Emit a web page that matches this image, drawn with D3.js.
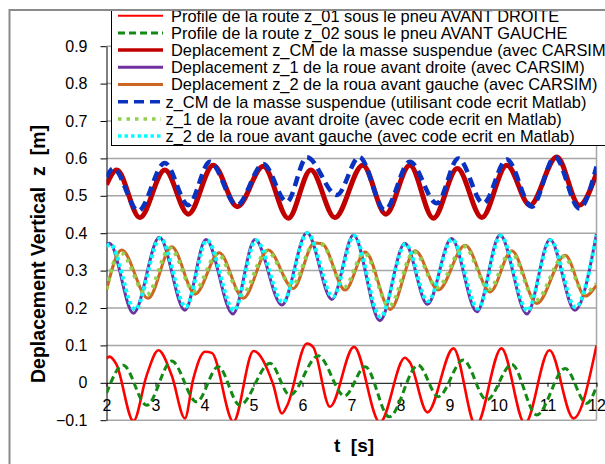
<!DOCTYPE html>
<html>
<head>
<meta charset="utf-8">
<script src="https://cdn.jsdelivr.net/npm/d3@7"></script>
<style>
 body { margin: 0; background: #fff; }
 text { font-family: "Liberation Sans", Arial, sans-serif; }
</style>
</head>
<body>
<div id="chart"></div>
<script type="text/javascript">
 // [t (s), z (m)]
 var roadRight = [[2,0.065],[2.06,0.07],[2.2,0.05],[2.55,-0.102],[2.82,0.02],[3.06,0.087],[3.33,0.02],[3.6,-0.095],[3.77,0.01],[4.01,0.083],[4.15,0.08],[4.59,-0.104],[5.0,0.085],[5.4,-0.004],[5.58,-0.082],[5.69,-0.06],[6.09,0.105],[6.22,0.095],[6.56,-0.064],[7.05,0.096],[7.58,-0.106],[8.09,0.067],[8.19,0.055],[8.55,-0.079],[9.08,0.092],[9.54,-0.115],[10.06,0.092],[10.54,-0.109],[11.04,0.087],[11.53,-0.095],[12,0.1]];
 var roadLeft = [[2,-0.028],[2.34,0.047],[2.82,-0.06],[3.33,0.058],[3.84,-0.051],[4.28,0.043],[4.72,-0.06],[5.34,0.052],[5.74,-0.033],[6.32,0.072],[6.86,-0.035],[7.28,0.043],[7.77,-0.091],[8.36,0.047],[8.77,-0.037],[9.28,0.061],[9.76,-0.046],[10.27,0.049],[10.78,-0.086],[11.36,0.038],[11.8,-0.055],[12,-0.01]];
 var cmCarsim = [[2,0.53],[2.21,0.569],[2.68,0.442],[3.19,0.569],[3.67,0.451],[4.18,0.582],[4.67,0.471],[5.2,0.579],[5.71,0.44],[6.17,0.569],[6.66,0.442],[7.23,0.582],[7.7,0.451],[8.19,0.582],[8.67,0.44],[9.16,0.573],[9.66,0.442],[10.17,0.582],[10.64,0.475],[11.19,0.604],[11.65,0.475],[12,0.56]];
 var z1Carsim = [[2,0.37],[2.06,0.373],[2.55,0.186],[3.08,0.389],[3.6,0.194],[4.03,0.383],[4.58,0.184],[5.03,0.383],[5.58,0.208],[6.09,0.401],[6.6,0.223],[7.04,0.395],[7.58,0.166],[8.09,0.373],[8.55,0.21],[9.04,0.386],[9.56,0.19],[10.03,0.395],[10.58,0.184],[11.05,0.383],[11.56,0.194],[12,0.398]];
 var z2Carsim = [[2,0.248],[2.31,0.355],[2.85,0.226],[3.33,0.364],[3.81,0.237],[4.3,0.348],[4.79,0.226],[5.3,0.355],[5.81,0.252],[6.24,0.374],[6.4,0.372],[6.87,0.248],[7.28,0.35],[7.79,0.196],[8.3,0.353],[8.77,0.248],[9.32,0.368],[9.83,0.243],[10.27,0.353],[10.78,0.212],[11.36,0.341],[11.77,0.232],[12,0.261]];
 var cmMatlab = [[2,0.55],[2.14,0.573],[2.65,0.46],[3.19,0.588],[3.67,0.475],[4.11,0.591],[4.66,0.475],[5.2,0.585],[5.68,0.484],[6.09,0.603],[6.7,0.502],[7.16,0.604],[7.68,0.462],[8.19,0.591],[8.74,0.48],[9.18,0.6],[9.69,0.48],[10.17,0.597],[10.68,0.471],[11.15,0.604],[11.65,0.466],[12,0.578]];
 var z1Matlab = [[2,0.25],[2.28,0.35],[2.82,0.235],[3.3,0.36],[3.79,0.245],[4.27,0.345],[4.76,0.235],[5.28,0.352],[5.79,0.26],[6.24,0.372],[6.4,0.37],[6.85,0.255],[7.26,0.347],[7.77,0.205],[8.28,0.35],[8.75,0.255],[9.3,0.365],[9.81,0.25],[10.25,0.35],[10.76,0.22],[11.34,0.338],[11.75,0.24],[12,0.265]];
 var z2Matlab = [[2,0.365],[2.08,0.37],[2.58,0.196],[3.1,0.387],[3.62,0.203],[4.05,0.381],[4.6,0.194],[5.05,0.381],[5.6,0.215],[6.1,0.4],[6.62,0.23],[7.05,0.393],[7.59,0.176],[8.1,0.371],[8.56,0.218],[9.05,0.384],[9.58,0.198],[10.04,0.393],[10.59,0.193],[11.06,0.381],[11.57,0.202],[12,0.395]];

 var legendLabels = [
   "Profile de la route z_01 sous le pneu AVANT DROITE",
   "Profile de la route z_02 sous le pneu AVANT GAUCHE",
   "Deplacement z_CM de la masse suspendue (avec CARSIM)",
   "Deplacement z_1 de la roue avant droite (avec CARSIM)",
   "Deplacement z_2 de la roua avant gauche (avec CARSIM)",
   "z_CM de la masse suspendue (utilisant code ecrit Matlab)",
   "z_1 de la roue avant droite (avec code ecrit en Matlab)",
   "z_2 de la roue avant gauche (avec code ecrit en Matlab)"
 ];
 var yTicks = [-0.1,0,0.1,0.2,0.3,0.4,0.5,0.6,0.7,0.8,0.9];
 var xTicks = [2,3,4,5,6,7,8,9,10,11,12];

 // drawing order matches the picture (road profiles under, matlab dashes on top)
 var series = [
   {data: roadRight, color: "#ff0000", width: 2.6, dash: null, leg: 0},
   {data: roadLeft, color: "#138a13", width: 3, dash: "7,4", leg: 1},
   {data: z1Carsim, color: "#7030a0", width: 3, dash: null, leg: 3},
   {data: z2Carsim, color: "#cc6622", width: 3, dash: null, leg: 4},
   {data: cmCarsim, color: "#c00000", width: 5, dash: null, leg: 2},
   {data: cmMatlab, color: "#0a32c0", width: 4.5, dash: "10,6", leg: 5},
   {data: z1Matlab, color: "#92d050", width: 4, dash: "3.5,5", leg: 6},
   {data: z2Matlab, color: "#00ffff", width: 4, dash: "3.5,3", leg: 7}
 ];

 var W = 605, H = 464;
 var svg = d3.select("#chart").append("svg").attr("width", W).attr("height", H);

 var x = d3.scaleLinear().domain([2, 12]).range([106.5, 596.5]);
 var y = d3.scaleLinear().domain([-0.1, 0.9]).range([420.2, 46.2]);

 svg.append("defs").append("clipPath").attr("id", "plot-clip")
   .append("rect").attr("x", x(2)).attr("y", y(0.9)).attr("width", x(12) - x(2)).attr("height", y(-0.1) - y(0.9));

 // gridlines
 svg.append("g").selectAll("line")
   .data(yTicks.filter(function(d){ return d != 0; }))
   .enter().append("line")
   .attr("x1", x(2)).attr("x2", x(12))
   .attr("y1", function(d){ return y(d); }).attr("y2", function(d){ return y(d); })
   .style("stroke", "#a6a6a6").style("stroke-width", 1.5);

 svg.append("line").attr("x1", x(12)).attr("x2", x(12)).attr("y1", y(0.9)).attr("y2", y(-0.1))
   .style("stroke", "#a6a6a6").style("stroke-width", 1.5);

 // x axis sits on z = 0
 var xAxis = svg.append("g").attr("transform", "translate(0," + y(0) + ")")
   .call(d3.axisBottom(x).tickValues(xTicks).tickFormat(d3.format("d")).tickSizeInner(4).tickSizeOuter(0).tickPadding(12.5));
 xAxis.select(".domain").style("stroke", "#000");
 xAxis.selectAll("text").style("font-size", "16px").style("font-family", "Liberation Sans, Arial, sans-serif");

 var yAxis = svg.append("g").attr("transform", "translate(" + x(2) + ",0)")
   .call(d3.axisLeft(y).tickValues(yTicks).tickFormat(function(d){ return d == 0 ? "0" : d3.format(".1f")(d); }).tickSizeInner(6).tickSizeOuter(0).tickPadding(13));
 yAxis.selectAll("text").style("font-size", "16px").style("font-family", "Liberation Sans, Arial, sans-serif");

 var line = d3.line()
   .x(function(d){ return x(d[0]); })
   .y(function(d){ return y(d[1]); })
   .curve(d3.curveMonotoneX);

 svg.append("g").attr("clip-path", "url(#plot-clip)").selectAll("path")
   .data(series)
   .enter().append("path")
   .attr("d", function(d){ return line(d.data); })
   .style("fill", "none")
   .style("stroke", function(d){ return d.color; })
   .style("stroke-width", function(d){ return d.width; })
   .style("stroke-dasharray", function(d){ return d.dash; })
   .style("stroke-linejoin", "round");

 // legend
 var legend = svg.append("g");
 legend.append("rect").attr("x", 111.5).attr("y", -5).attr("width", 520).attr("height", 150.5)
   .style("fill", "#fff").style("stroke", "#000").style("stroke-width", 1);
 var rows = legend.selectAll(".row")
   .data(series.slice().sort(function(a, b){ return a.leg - b.leg; }))
   .enter().append("g")
   .attr("transform", function(d){ return "translate(0," + (15.7 + d.leg * 17.2) + ")"; });
 rows.append("line")
   .attr("x1", 118).attr("x2", function(d){ return d.leg > 4 ? 161 : 163; })
   .attr("y1", 0).attr("y2", 0)
   .style("stroke", function(d){ return d.color; })
   .style("stroke-width", function(d){ return d.leg == 0 ? 2 : Math.min(d.width, 3.5); })
   .style("stroke-dasharray", function(d){ return d.dash; });
 rows.append("text")
   .attr("x", function(d){ return d.leg > 4 ? 165.5 : 171; })
   .attr("y", 5.8)
   .style("font-size", "16.4px")
   .text(function(d){ return legendLabels[d.leg]; });

 // outer frame, cut at the right and bottom of the picture
 svg.append("rect").attr("x", 0).attr("y", 0).attr("width", W).attr("height", 9).style("fill", "#fff");
 svg.append("rect").attr("x", 0).attr("y", 0).attr("width", 9).attr("height", H).style("fill", "#fff");
 svg.append("rect").attr("x", 9.5).attr("y", 10).attr("width", 700).attr("height", 600)
   .style("fill", "none").style("stroke", "#8a8a8a").style("stroke-width", 2);

 // axis titles
 svg.append("text")
   .attr("transform", "translate(45,254) rotate(-90)")
   .attr("text-anchor", "middle")
   .style("font-size", "19.5px").style("font-weight", "bold")
   .style("white-space", "pre").attr("xml:space", "preserve")
   .text("Deplacement Vertical  z  [m]");

 svg.append("text")
   .attr("x", 354).attr("y", 452)
   .attr("text-anchor", "middle")
   .style("font-size", "19px").style("font-weight", "bold")
   .style("white-space", "pre").attr("xml:space", "preserve")
   .text("t  [s]");
</script>
</body>
</html>
